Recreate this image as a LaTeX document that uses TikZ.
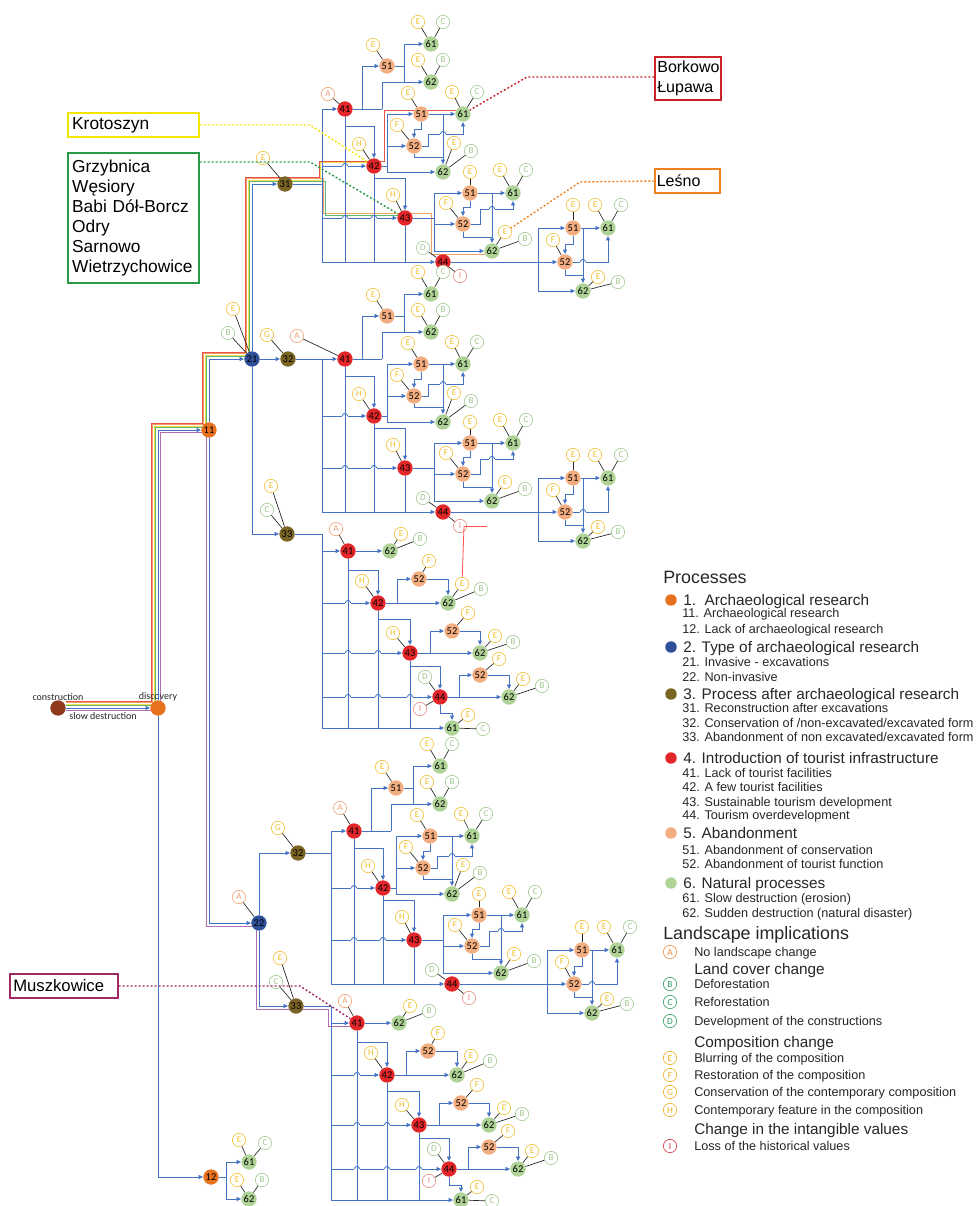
\documentclass[tikz,border=0pt]{standalone}
\usepackage{fontspec}
\setmainfont{Liberation Sans}
\newfontfamily\carl{Carlito}
\usetikzlibrary{arrows.meta}
\definecolor{cblue}{HTML}{4472C4}
\definecolor{pOr}{HTML}{E8711E}
\definecolor{pBl}{HTML}{2F4F98}
\definecolor{pOl}{HTML}{7A6424}
\definecolor{pRd}{HTML}{E3262A}
\definecolor{pSa}{HTML}{F2AE80}
\definecolor{pGr}{HTML}{AFD297}
\definecolor{pCo}{HTML}{8E3B1B}
\definecolor{lY}{HTML}{F0C030}
\definecolor{lA}{HTML}{F0A070}
\definecolor{lG}{HTML}{A0C890}
\definecolor{lI}{HTML}{E88A80}
\definecolor{bRed}{HTML}{E8524A}
\definecolor{bOr}{HTML}{F4A060}
\definecolor{bYe}{HTML}{F2E050}
\definecolor{bGr}{HTML}{5CB86A}
\definecolor{bPu}{HTML}{B070B0}
\definecolor{kY}{HTML}{F2E600}
\definecolor{kG}{HTML}{2A9A48}
\definecolor{kR}{HTML}{CC2229}
\definecolor{kO}{HTML}{F08020}
\definecolor{kP}{HTML}{A02868}
\definecolor{legA}{HTML}{F08A3C}
\definecolor{legG}{HTML}{2E9E5E}
\definecolor{legY}{HTML}{F0B020}
\definecolor{legI}{HTML}{D83040}
\tikzset{
 conn/.style={draw=cblue, line width=0.65pt},
 arr/.style={conn, -{Triangle[length=3.4pt,width=3pt]}},
 ll/.style={draw=black!85, line width=0.5pt},
 rl/.style={draw=red!70, line width=0.6pt},
 pn/.style={circle, minimum size=11.5pt, inner sep=0pt, font=\carl\fontsize{7.8}{8}\selectfont, text=black},
 n1/.style={pn, fill=pOr},
 n2/.style={pn, fill=pBl},
 n3/.style={pn, fill=pOl},
 n4/.style={pn, fill=pRd},
 n5/.style={pn, fill=pSa},
 n6/.style={pn, fill=pGr},
 lb/.style={circle, draw, fill=white, line width=0.45pt, minimum size=10pt, inner sep=0pt, font=\carl\fontsize{6.8}{7}\selectfont},
 lbY/.style={lb, draw=lY, text=lY},
 lbA/.style={lb, draw=lA, text=lA},
 lbG/.style={lb, draw=lG, text=lG},
 lbI/.style={lb, draw=lI, text=lI},
 bund/.style={line width=0.6pt},
 dotl/.style={line width=1.1pt, dash pattern=on 1.4pt off 1.6pt},
 box/.style={rectangle, line width=1.1pt, fill=white, align=left, inner xsep=2.5pt, inner ysep=2pt, text=black},
 lgmain/.style={anchor=west, inner sep=0pt, font=\fontsize{11.5}{13}\selectfont, text=black!85, text height=8.2pt, text depth=0pt},
 lgsub/.style={anchor=west, inner sep=0pt, font=\fontsize{9.5}{11}\selectfont, text=black!85, text height=6.8pt, text depth=0pt},
 lghead/.style={anchor=west, inner sep=0pt, font=\fontsize{13.4}{15}\selectfont, text=black!85, text height=9.6pt, text depth=0pt},
 lgc/.style={circle, draw, fill=white, line width=0.45pt, minimum size=10pt, inner sep=0pt, font=\carl\fontsize{7}{7}\selectfont},
}
\newcommand\hopat[2]{\fill[white] (#1-2.6,#2-0.9) rectangle (#1+2.6,#2+0.9);\draw[conn] (#1-2.6,#2) arc[start angle=180,end angle=0,radius=1.95pt];}
\newcommand\Lab[5]{\node[#2] (#1) at (#3) {#4};\draw[ll] (#1) -- (#5);}
\newcommand\bund[2]{\draw[bund,#1] (66,708-#2) -- (158-#2,708-#2) -- (158-#2,430-#2) -- (209-#2,430-#2) -- (209-#2,359-#2) -- (252-#2,359-#2) -- (252-#2,184-#2) -- (292,184-#2);}
\newcommand\blockfour[3]{%
\begin{scope}[shift={(#2,#3)}]
\node[n4] (#1n41) at (345,359) {41};
\node[n4] (#1n42) at (374,416) {42};
\node[n4] (#1n43) at (405,468) {43};
\node[n4] (#1n44) at (443,512) {44};
\node[n5] (#1a51) at (387,316) {51};
\node[n6] (#1a61) at (431,294) {61};
\node[n6] (#1a62) at (431,332) {62};
\node[n5] (#1b51) at (421,364) {51};
\node[n6] (#1b61) at (463,364) {61};
\node[n5] (#1b52) at (414,396) {52};
\node[n6] (#1b62) at (443,422) {62};
\node[n5] (#1c51) at (470,443) {51};
\node[n6] (#1c61) at (513,443) {61};
\node[n5] (#1c52) at (463,474) {52};
\node[n6] (#1c62) at (492,501) {62};
\node[n5] (#1d51) at (573,478) {51};
\node[n6] (#1d61) at (608,478) {61};
\node[n5] (#1d52) at (565,512) {52};
\node[n6] (#1d62) at (583,541) {62};
\coordinate (#1bt) at (322,359);
\coordinate (#1bb) at (322,512);
\draw[arr] (#1bt) -- (#1n41);
\draw[conn] (#1bt) -- (#1bb);
\draw[arr] (#1bb) -- (#1n44);
\draw[arr] (322,416) -- (#1n42);
\draw[arr] (322,468) -- (#1n43);
\draw[arr] (345,376) -| (#1n42);
\draw[arr] (374,428) -| (#1n43);
\draw[conn] (#1n41) -- (382,359);
\draw[arr] (362,359) |- (#1a51);
\draw[arr] (382,359) |- (#1a62);
\draw[conn] (#1a51) -- (404,316) -- (404,332);
\draw[arr] (404,316) |- (#1a61);
\draw[conn] (#1n42) -- (387,416);
\draw[arr] (387,416) |- (#1b51);
\draw[arr] (387,396) -- (#1b52);
\draw[arr] (387,416) |- (#1b62);
\draw[arr] (#1b51) -- (#1b61);
\draw[arr] (#1b51) -- (421,379) -| (#1b52);
\draw[arr] (#1b52) -- (428,396) -- (428,384) -| (#1b61);
\draw[conn] (#1b52) -- (414,407) -- (443,407);
\draw[conn] (#1n43) -- (434,468);
\draw[arr] (434,468) |- (#1c51);
\draw[arr] (434,474) -- (#1c52);
\draw[arr] (434,468) |- (#1c62);
\draw[arr] (#1c51) -- (#1c61);
\draw[arr] (#1c51) -- (470,457) -| (#1c52);
\draw[arr] (#1c52) -- (480,474) -- (480,459) -| (#1c61);
\draw[conn] (#1c52) -- (463,487) -- (492,487);
\draw[conn] (#1n44) -- (538,512);
\draw[arr] (538,512) -- (#1d52);
\draw[arr] (538,512) |- (#1d51);
\draw[arr] (538,512) |- (#1d62);
\draw[arr] (#1d51) -- (#1d61);
\draw[arr] (#1d51) -- (573,494) -| (#1d52);
\draw[arr] (#1d52) -| (#1d61);
\draw[conn] (#1d52) -- (565,525) -- (583,525);
\hopat{345}{416}\hopat{345}{468}\hopat{374}{468}
\hopat{443}{384}\hopat{492}{459}\hopat{583}{512}
\draw[conn] (#1n41) -- (345,512);
\draw[conn] (#1n42) -- (374,512);
\draw[conn] (#1n43) -- (405,512);
\draw[arr] (443,364) -- (#1b62);
\draw[arr] (492,443) -- (#1c62);
\draw[arr] (583,478) -- (#1d62);
\Lab{#1H2}{lbY}{359,394}{H}{#1n42}
\Lab{#1H3}{lbY}{393,445}{H}{#1n43}
\Lab{#1D4}{lbG}{423,498}{D}{#1n44}
\Lab{#1I4}{lbI}{460,526}{I}{#1n44}
\Lab{#1aE}{lbY}{373,295}{E}{#1a51}
\Lab{#1a61E}{lbY}{418,272}{E}{#1a61}
\Lab{#1a61C}{lbG}{443,272}{C}{#1a61}
\Lab{#1a62E}{lbY}{418,310}{E}{#1a62}
\Lab{#1a62B}{lbG}{443,310}{B}{#1a62}
\Lab{#1bE}{lbY}{408,343}{E}{#1b51}
\Lab{#1b61E}{lbY}{452,342}{E}{#1b61}
\Lab{#1b61C}{lbG}{477,342}{C}{#1b61}
\Lab{#1bF}{lbY}{397,375}{F}{#1b52}
\Lab{#1b62E}{lbY}{454,393}{E}{#1b62}
\Lab{#1b62B}{lbG}{471,401}{B}{#1b62}
\Lab{#1cE}{lbY}{470,422}{E}{#1c51}
\Lab{#1c61E}{lbY}{500,420}{E}{#1c61}
\Lab{#1c61C}{lbG}{526,420}{C}{#1c61}
\Lab{#1cF}{lbY}{446,453}{F}{#1c52}
\Lab{#1c62E}{lbY}{505,482}{E}{#1c62}
\Lab{#1c62B}{lbG}{525,489}{B}{#1c62}
\Lab{#1dE}{lbY}{573,455}{E}{#1d51}
\Lab{#1d61E}{lbY}{595,455}{E}{#1d61}
\Lab{#1d61C}{lbG}{621,455}{C}{#1d61}
\Lab{#1dF}{lbY}{553,490}{F}{#1d52}
\Lab{#1d62E}{lbY}{598,527}{E}{#1d62}
\Lab{#1d62B}{lbG}{618,532}{B}{#1d62}
\end{scope}}
\newcommand\blockthree[3]{%
\begin{scope}[shift={(#2,#3)}]
\node[n3] (#1n33) at (287,534) {33};
\node[n4] (#1n41) at (348,551) {41};
\node[n4] (#1n42) at (378,603) {42};
\node[n4] (#1n43) at (410,653) {43};
\node[n4] (#1n44) at (440,697) {44};
\node[n6] (#1m61) at (452,728) {61};
\node[n6] (#1p62) at (390,551) {62};
\node[n5] (#1q52) at (419,579) {52};
\node[n6] (#1q62) at (448,603) {62};
\node[n5] (#1r52) at (452,631) {52};
\node[n6] (#1r62) at (480,653) {62};
\node[n5] (#1s52) at (480,675) {52};
\node[n6] (#1s62) at (509,697) {62};
\coordinate (#1bt) at (322,534);
\coordinate (#1bb) at (322,728);
\draw[conn] (#1n33) -- (#1bt) -- (#1bb);
\draw[arr] (322,551) -- (#1n41);
\draw[arr] (322,603) -- (#1n42);
\draw[arr] (322,653) -- (#1n43);
\draw[arr] (322,697) -- (#1n44);
\draw[arr] (#1bb) -- (#1m61);
\draw[arr] (348,570) -| (#1n42);
\draw[arr] (378,619) -| (#1n43);
\draw[arr] (410,666) -| (#1n44);
\draw[arr] (#1n44) -- (440,713) -| (#1m61);
\draw[arr] (#1n41) -- (#1p62);
\draw[arr] (#1n42) -- (#1q62);
\draw[arr] (397,603) |- (#1q52);
\draw[arr] (#1q52) -| (#1q62);
\draw[arr] (#1n43) -- (#1r62);
\draw[arr] (430,653) |- (#1r52);
\draw[arr] (#1r52) -| (#1r62);
\draw[arr] (#1n44) -- (#1s62);
\draw[arr] (459,697) |- (#1s52);
\draw[arr] (#1s52) -| (#1s62);
\hopat{348}{603}\hopat{348}{653}\hopat{378}{653}\hopat{348}{697}\hopat{378}{697}\hopat{410}{697}
\draw[conn] (#1n41) -- (348,728);
\draw[conn] (#1n42) -- (378,728);
\draw[conn] (#1n43) -- (410,728);
\Lab{#1E33}{lbY}{271,486}{E}{#1n33}
\Lab{#1C33}{lbG}{267,510}{C}{#1n33}
\Lab{#1A1}{lbA}{336,529}{A}{#1n41}
\Lab{#1H2}{lbY}{362,581}{H}{#1n42}
\Lab{#1H3}{lbY}{393,633}{H}{#1n43}
\Lab{#1D4}{lbG}{425,677}{D}{#1n44}
\Lab{#1I4}{lbI}{420,709}{I}{#1n44}
\Lab{#1pE}{lbY}{401,534}{E}{#1p62}
\Lab{#1pB}{lbG}{420,539}{B}{#1p62}
\Lab{#1qF}{lbY}{429,561}{F}{#1q52}
\Lab{#1qE}{lbY}{462,584}{E}{#1q62}
\Lab{#1qB}{lbG}{481,589}{B}{#1q62}
\Lab{#1rF}{lbY}{468,613}{F}{#1r52}
\Lab{#1rE}{lbY}{495,636}{E}{#1r62}
\Lab{#1rB}{lbG}{513,642}{B}{#1r62}
\Lab{#1sF}{lbY}{499,659}{F}{#1s52}
\Lab{#1sE}{lbY}{523,679}{E}{#1s62}
\Lab{#1sB}{lbG}{542,686}{B}{#1s62}
\Lab{#1mE}{lbY}{468,715}{E}{#1m61}
\Lab{#1mC}{lbG}{483,729}{C}{#1m61}
\end{scope}}
\newcommand\lgm[4]{\fill[#2] (671,#3) circle[radius=4.3pt];\node[lgmain] (#1) at (683,#3) {#4};}
\newcommand\lgs[3]{\node[lgsub] (#1) at (682,#2) {#3};}
\newcommand\lgl[5]{\node[lgc, draw=#2, text=#2] (#1c) at (670,#3) {#4};\node[lgsub] (#1) at (694,#3) {#5};}
\begin{document}
\begin{tikzpicture}[x=0.75pt,y=-0.75pt]
\useasboundingbox (0,0) rectangle (979,1206);
% coloured bundles
\bund{bRed}{7}
\bund{bOr}{5.4}
\bund{bYe}{3.8}
\bund{bGr}{2.2}
\draw[bund,bRed] (292,177) -- (319,177) -- (319,161) -- (384,161) -- (384,110) -- (456,110);
\draw[bund,bYe] (292,180.2) -- (320.6,180.2) -- (320.6,162.6) -- (368,162.6);
\draw[bund,bOr] (292,178.6) -- (323.4,178.6) -- (323.4,213) -- (431,213) -- (431,254) -- (486,254);
\draw[bund,bGr] (292,181.8) -- (325,181.8) -- (325,215.6) -- (400,215.6);
\draw[bund,bPu] (66,710) -- (160,710) -- (160,432) -- (206,432) -- (206,926) -- (256,926) -- (256,1009) -- (328,1009) -- (328,1026) -- (350,1026);
% blocks
\blockfour{T}{0}{-250}
\blockfour{B}{0}{0}
\blockfour{P}{9}{472}
\blockthree{A}{0}{0}
\blockthree{Q}{9}{472}
% trunk nodes
\node[pn, fill=pCo] (cons) at (58,708) {};
\node[pn, fill=pOr] (disc) at (158,708) {};
\node[n1] (n11) at (209,430) {11};
\node[n1] (n12) at (211,1177) {12};
\node[n2] (n21) at (252,359) {21};
\node[n2] (n22) at (259,923) {22};
\node[n3] (n31) at (285,184) {31};
\node[n3] (n32) at (288,359) {32};
\node[n3] (n32b) at (298,853) {32};
\node[n6] (z61) at (249,1162) {61};
\node[n6] (z62) at (249,1199) {62};
\node[font=\carl\fontsize{7.5}{8}\selectfont, text=black!85, inner sep=0pt] (tcons) at (58,697) {construction};
\node[font=\carl\fontsize{7.5}{8}\selectfont, text=black!85, inner sep=0pt] (tdisc) at (158,697) {discovery};
\node[font=\carl\fontsize{7.5}{8}\selectfont, text=black!85, inner sep=0pt] (tslow) at (103,716) {slow destruction};
\draw[arr] (cons) -- (disc);
\draw[arr] (disc) |- (n11);
\draw[arr] (disc) |- (n12);
\draw[arr] (n11) |- (n21);
\draw[arr] (n11) |- (n22);
\draw[arr] (n21) |- (n31);
\draw[arr] (n21) -- (n32);
\draw[arr] (n21) |- (An33);
\draw[arr] (n22) |- (n32b);
\draw[arr] (n22) |- (Qn33);
\draw[conn] (n31) -- (322,184);
\draw[conn] (n32) -- (Bbt);
\draw[conn] (n32b) -- (331,853);
\draw[conn] (n12) -- (226,1177);
\draw[arr] (226,1177) |- (z61);
\draw[arr] (226,1177) |- (z62);
\draw[rl] (464,526) -- (487,526);
\draw[rl] (464,526) -- (AqE);
% trunk labels
\Lab{L21E}{lbY}{233,309}{E}{n21}
\Lab{L21B}{lbG}{228,333}{B}{n21}
\Lab{L22A}{lbA}{239,897}{A}{n22}
\Lab{L31E}{lbY}{263,158}{E}{n31}
\Lab{L32G}{lbY}{267,335}{G}{n32}
\Lab{L32A}{lbA}{297,336}{A}{Bn41}
\Lab{L32bG}{lbY}{278,828}{G}{n32b}
\Lab{LPA}{lbA}{340,808}{A}{Pn41}
\Lab{LTA}{lbA}{328,94}{A}{Tn41}
\Lab{z61E}{lbY}{239,1140}{E}{z61}
\Lab{z61C}{lbG}{265,1143}{C}{z61}
\Lab{z62E}{lbY}{237,1180}{E}{z62}
\Lab{z62B}{lbG}{262,1180}{B}{z62}
% site boxes
\node[box, draw=kY, minimum width=98.25pt, minimum height=18pt, text width=92pt, font=\fontsize{13}{15}\selectfont] (krot) at (133.5,125) {Krotoszyn};
\node[box, draw=kG, minimum width=98.25pt, minimum height=97.5pt, text width=92pt, font=\fontsize{13}{15}\selectfont] (grz) at (133.5,218) {Grzybnica\\Węsiory\\Babi Dół-Borcz\\Odry\\Sarnowo\\Wietrzychowice};
\node[box, draw=kR, minimum width=49.5pt, minimum height=32.25pt, text width=46pt, inner xsep=1.2pt, font=\fontsize{12}{15}\selectfont] (bork) at (688,78.5) {Borkowo\\Łupawa};
\node[box, draw=kO, minimum width=48.75pt, minimum height=18pt, text width=46pt, inner xsep=1.2pt, font=\fontsize{12}{15}\selectfont] (lesno) at (687.5,181) {Leśno};
\node[box, draw=kP, minimum width=81pt, minimum height=18pt, text width=76pt, font=\fontsize{12.5}{15}\selectfont] (musz) at (64,986) {Muszkowice};
\draw[dotl, draw=kY] (krot.east) -- (310,125) -- (Tn42);
\draw[dotl, draw=kG] (grz.east |- 0,162) -- (310,162) -- (Tn43);
\draw[dotl, draw=kR] (bork.west |- 0,77) -- (527,77) -- (Tb61);
\draw[dotl, draw=kO] (lesno.west) -- (580,182) -- (Tc62E);
\draw[dotl, draw=kP] (musz.east) -- (300,986) -- (Qn41);
% legend
\node[lghead] (lgP) at (663,577) {Processes};
\lgm{lg1}{pOr}{600}{1.~~Archaeological research}
\lgs{lg11}{613}{11. Archaeological research}
\lgs{lg12}{629}{12. Lack of archaeological research}
\lgm{lg2}{pBl}{647}{2. Type of archaeological research}
\lgs{lg21}{662}{21. Invasive - excavations}
\lgs{lg22}{677}{22. Non-invasive}
\lgm{lg3}{pOl}{694}{3. Process after archaeological research}
\lgs{lg31}{708}{31. Reconstruction after excavations}
\lgs{lg32}{723}{32. Conservation of /non-excavated/excavated form}
\lgs{lg33}{737}{33. Abandonment of non excavated/excavated form}
\lgm{lg4}{pRd}{758}{4. Introduction of tourist infrastructure}
\lgs{lg41}{773}{41. Lack of tourist facilities}
\lgs{lg42}{787}{42. A few tourist facilities}
\lgs{lg43}{802}{43. Sustainable tourism development}
\lgs{lg44}{815}{44. Tourism overdevelopment}
\lgm{lg5}{pSa}{833}{5. Abandonment}
\lgs{lg51}{850}{51. Abandonment of conservation}
\lgs{lg52}{864}{52. Abandonment of tourist function}
\lgm{lg6}{pGr}{883}{6. Natural processes}
\lgs{lg61}{898}{61. Slow destruction (erosion)}
\lgs{lg62}{913}{62. Sudden destruction (natural disaster)}
\node[lghead] (lgL) at (663,933) {Landscape implications};
\lgl{lgA}{legA}{952}{A}{No landscape change}
\node[lgmain] (lgLC) at (694,969) {Land cover change};
\lgl{lgB}{legG}{984}{B}{Deforestation}
\lgl{lgC}{legG}{1002}{C}{Reforestation}
\lgl{lgD}{legG}{1021}{D}{Development of the constructions}
\node[lgmain] (lgCC) at (694,1042) {Composition change};
\lgl{lgE}{legY}{1058}{E}{Blurring of the composition}
\lgl{lgF}{legY}{1075}{F}{Restoration of the composition}
\lgl{lgG}{legY}{1092}{G}{Conservation of the contemporary composition}
\lgl{lgH}{legY}{1110}{H}{Contemporary feature in the composition}
\node[lgmain] (lgIC) at (694,1129) {Change in the intangible values};
\lgl{lgI}{legI}{1146}{I}{Loss of the historical values}
\end{tikzpicture}
\end{document}
